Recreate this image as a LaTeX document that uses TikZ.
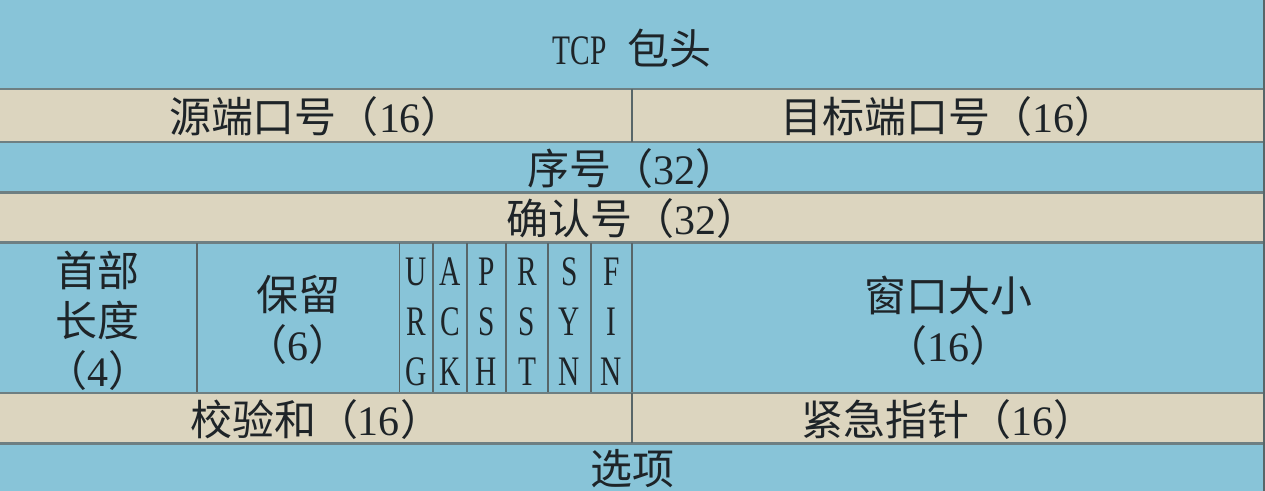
\documentclass[tikz,border=0pt]{standalone}
\usepackage{fontspec}
\setmainfont{Liberation Serif}
\newfontfamily\cjk{Noto Sans CJK SC}
\newfontfamily\nar[FakeStretch=0.7]{Liberation Serif}
\definecolor{cellblue}{HTML}{88C4D8}
\definecolor{cellbeige}{HTML}{DCD5BF}
\definecolor{rule}{HTML}{6E7F82}
\definecolor{ink}{HTML}{1E2428}
\tikzset{
  txt/.style={inner sep=0pt, text=ink, font=\fontsize{21pt}{25pt}\selectfont\cjk, align=center},
  flag/.style={txt, font=\fontsize{21pt}{25pt}\selectfont\nar},
  hrule/.style={draw=rule, line width=1.2pt},
  vrule/.style={draw=rule!80!black, line width=0.7pt},
}
\begin{document}
\begin{tikzpicture}[x=0.5pt,y=-0.5pt]
\useasboundingbox (0,0) rectangle (1265,491);
\clip (0,0) rectangle (1265,491);
% row fills
\fill[cellblue]  (0,0)   rectangle (1265,89);
\fill[cellbeige] (0,89)  rectangle (1265,142);
\fill[cellblue]  (0,142) rectangle (1265,193);
\fill[cellbeige] (0,193) rectangle (1265,243);
\fill[cellblue]  (0,243) rectangle (1265,393);
\fill[cellbeige] (0,393) rectangle (1265,444);
\fill[cellblue]  (0,444) rectangle (1265,491);
% horizontal rules
\foreach \y in {89,142,192.5,242.5,393,443.5}
  \draw[hrule] (0,\y) -- (1265,\y);
% vertical rules
\draw[vrule] (632,89) -- (632,142);
\foreach \x in {197,399.5,433,467,506,548,591,632}
  \draw[vrule] (\x,243.5) -- (\x,392.5);
\draw[vrule] (632,393.5) -- (632,443);
\draw[vrule] (1264,0) -- (1264,491);
% texts
\node[txt] (tcp) at (632,48) {{\nar TCP}\hspace{0.5em}包头};
\node[txt] (src) at (316,117) {源端口号（{\rmfamily 16}）};
\node[txt] (dst) at (948,117) {目标端口号（{\rmfamily 16}）};
\node[txt] (seq) at (632,169) {序号（{\rmfamily 32}）};
\node[txt] (ack) at (632,219) {确认号（{\rmfamily 32}）};
\node[txt] (hlen) at (98,321) {首部\\长度\\（{\rmfamily 4}）};
\node[txt] (rsv) at (298,320) {保留\\（{\rmfamily 6}）};
\node[flag] (urg) at (416,322) {U\\R\\G};
\node[flag] (ackf) at (450,322) {A\\C\\K};
\node[flag] (psh) at (486.5,322) {P\\S\\H};
\node[flag] (rst) at (527,322) {R\\S\\T};
\node[flag] (syn) at (569.5,322) {S\\Y\\N};
\node[flag] (fin) at (611.5,322) {F\\I\\N};
\node[txt] (win) at (948,321) {窗口大小\\（{\rmfamily 16}）};
\node[txt] (chk) at (316,420) {校验和（{\rmfamily 16}）};
\node[txt] (urgp) at (948,420) {紧急指针（{\rmfamily 16}）};
\node[txt] (opt) at (632,469) {选项};
\end{tikzpicture}
\end{document}
